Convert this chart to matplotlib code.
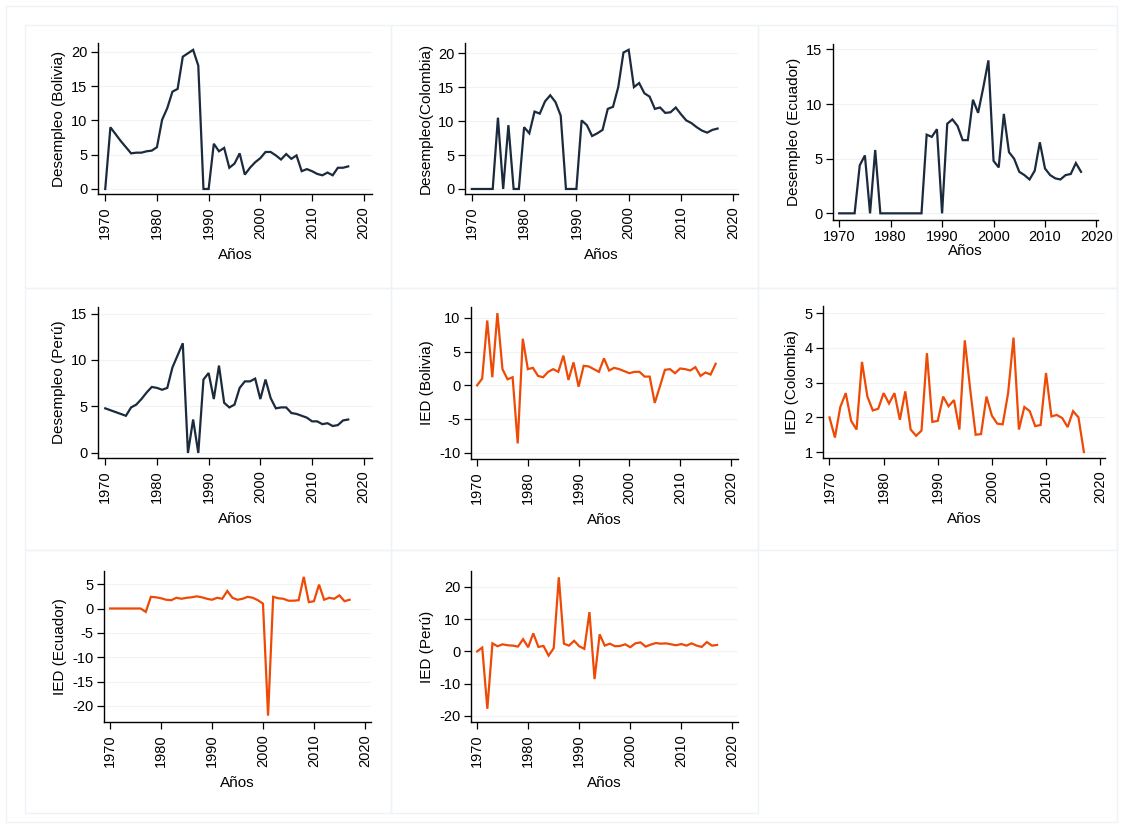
import matplotlib.pyplot as plt
from matplotlib.patches import Rectangle

plt.rcParams['font.family'] = ['Liberation Sans', 'DejaVu Sans']
plt.rcParams['axes.unicode_minus'] = False

years = list(range(1970, 2018))

# desempleo
des_bolivia = [0, 9.0, 8.0, 7.0, 6.1, 5.2, 5.3, 5.3, 5.5, 5.6,
               6.1, 10.1, 11.8, 14.2, 14.6, 19.3, 19.8, 20.3, 18.0, 0,
               0, 6.6, 5.5, 6.0, 3.1, 3.7, 5.2, 2.1, 3.1, 3.9,
               4.5, 5.4, 5.4, 4.9, 4.3, 5.1, 4.4, 4.9, 2.6, 2.9,
               2.6, 2.2, 2.0, 2.4, 2.0, 3.1, 3.1, 3.3]
des_colombia = [0, 0, 0, 0, 0, 10.5, 0, 9.4, 0, 0,
                9.1, 8.2, 11.4, 11.1, 12.9, 13.8, 12.8, 10.8, 0, 0,
                0, 10.1, 9.4, 7.8, 8.2, 8.7, 11.8, 12.1, 15.0, 20.1,
                20.5, 15.0, 15.6, 14.1, 13.6, 11.8, 12.0, 11.2, 11.3, 12.0,
                11.0, 10.1, 9.7, 9.1, 8.6, 8.3, 8.7, 8.9]
des_ecuador = [0, 0, 0, 0, 4.4, 5.3, 0, 5.8, 0, 0,
               0, 0, 0, 0, 0, 0, 0, 7.2, 7.0, 7.7,
               0, 8.2, 8.6, 8.0, 6.7, 6.7, 10.4, 9.2, 11.5, 14.0,
               4.8, 4.2, 9.1, 5.6, 5.0, 3.8, 3.5, 3.1, 3.9, 6.5,
               4.1, 3.5, 3.2, 3.1, 3.5, 3.6, 4.6, 3.8]
des_peru = [4.8, 4.6, 4.4, 4.2, 4.0, 4.9, 5.2, 5.8, 6.5, 7.1,
            7.0, 6.8, 7.0, 9.2, 10.5, 11.8, 0, 3.6, 0, 7.9,
            8.6, 5.8, 9.4, 5.4, 4.9, 5.2, 7.0, 7.7, 7.7, 8.0,
            5.8, 7.9, 5.9, 4.8, 4.9, 4.9, 4.3, 4.2, 4.0, 3.8,
            3.4, 3.4, 3.1, 3.2, 2.9, 3.0, 3.5, 3.6]

# IED
ied_bolivia = [0, 1.0, 9.6, 1.2, 10.7, 2.4, 0.9, 1.2, -8.6, 6.9,
               2.4, 2.6, 1.4, 1.2, 2.0, 2.4, 2.0, 4.4, 0.8, 3.4,
               -0.2, 2.9, 2.8, 2.4, 2.0, 4.0, 2.2, 2.6, 2.4, 2.1,
               1.8, 2.0, 2.0, 1.3, 1.3, -2.6, -0.2, 2.3, 2.4, 1.8,
               2.5, 2.4, 2.2, 2.7, 1.4, 1.9, 1.6, 3.2]
ied_colombia = [2.0, 1.42, 2.3, 2.7, 1.9, 1.65, 3.6, 2.6, 2.2, 2.25,
                2.7, 2.4, 2.7, 1.93, 2.75, 1.65, 1.47, 1.62, 3.85, 1.87,
                1.9, 2.6, 2.32, 2.5, 1.65, 4.22, 2.8, 1.5, 1.52, 2.6,
                2.05, 1.82, 1.8, 2.7, 4.3, 1.65, 2.3, 2.18, 1.75, 1.78,
                3.28, 2.03, 2.07, 1.98, 1.72, 2.18, 2.0, 1.0]
ied_ecuador = [0, 0, 0, 0, 0, 0, 0, -0.7, 2.4, 2.3,
               2.1, 1.8, 1.7, 2.2, 2.0, 2.2, 2.3, 2.5, 2.3, 2.0,
               1.8, 2.2, 2.0, 3.6, 2.2, 1.8, 2.0, 2.4, 2.2, 1.7,
               1.0, -22.0, 2.4, 2.1, 2.0, 1.6, 1.6, 1.7, 6.5, 1.3,
               1.5, 4.9, 1.8, 2.2, 2.0, 2.7, 1.5, 1.8]
ied_peru = [0, 1.2, -17.8, 2.5, 1.6, 2.2, 1.9, 1.8, 1.5, 3.8,
            1.3, 5.6, 1.4, 1.7, -1.3, 1.0, 23.0, 2.4, 1.8, 3.3,
            1.6, 0.8, 12.2, -8.6, 5.3, 1.8, 2.4, 1.6, 1.7, 2.2,
            1.3, 2.5, 2.8, 1.5, 2.1, 2.6, 2.4, 2.5, 2.2, 1.9,
            2.3, 1.8, 2.5, 1.8, 1.4, 2.9, 1.8, 2.0]

navy = '#1b2a3d'
orange = '#ee4a06'

W, H = 1123, 827
fig = plt.figure(figsize=(W / 100, H / 100), dpi=100)

# faint panel frames (Stata graph combine look)
border = '#eef3f8'
fig.add_artist(Rectangle((6 / W, 1 - 822 / H), 1111 / W, 816 / H, transform=fig.transFigure,
                         fill=False, ec=border, lw=1))
for (x0, y0, x1, y1) in [(25, 25, 391, 288), (391, 25, 758, 288), (758, 25, 1117, 288),
                         (25, 288, 391, 550), (391, 288, 758, 550), (758, 288, 1117, 550),
                         (25, 550, 391, 813), (391, 550, 758, 813)]:
    fig.add_artist(Rectangle((x0 / W, 1 - y1 / H), (x1 - x0) / W, (y1 - y0) / H,
                             transform=fig.transFigure, fill=False, ec=border, lw=1))

# (pixel box left, top, right, bottom), series, colour, ylabel, xlim, ylim, yticks, rotate
panels = [
    ((98, 43, 372, 194), des_bolivia, navy, 'Desempleo (Bolivia)', (1968.6, 2021.6), (-0.73, 21.3), [0, 5, 10, 15, 20], True),
    ((465, 43, 738, 194), des_colombia, navy, 'Desempleo(Colombia)', (1968.7, 2020.9), (-0.74, 21.5), [0, 5, 10, 15, 20], True),
    ((833, 44, 1098, 220), des_ecuador, navy, 'Desempleo (Ecuador)', (1968.8, 2020.3), (-0.61, 15.5), [0, 5, 10, 15], False),
    ((98, 307, 372, 458), des_peru, navy, 'Desempleo (Perú)', (1968.6, 2021.6), (-0.54, 15.7), [0, 5, 10, 15], True),
    ((471, 307, 738, 459), ied_bolivia, orange, 'IED (Bolivia)', (1968.8, 2021.4), (-10.9, 11.6), [-10, -5, 0, 5, 10], True),
    ((823, 306, 1105, 458), ied_colombia, orange, 'IED (Colombia)', (1968.8, 2020.9), (0.83, 5.21), [1, 2, 3, 4, 5], True),
    ((104, 571, 371, 722), ied_ecuador, orange, 'IED (Ecuador)', (1968.8, 2021.2), (-23.3, 7.7), [-20, -15, -10, -5, 0, 5], True),
    ((471, 571, 738, 722), ied_peru, orange, 'IED (Perú)', (1968.8, 2021.1), (-21.9, 24.95), [-20, -10, 0, 10, 20], True),
]

for box, values, color, ylab, xlim, ylim, yticks, rotate in panels:
    l, t, r, b = box
    ax = fig.add_axes([l / W, 1 - b / H, (r - l) / W, (b - t) / H])
    ax.plot(years, values, color=color, lw=1.6, solid_joinstyle='miter')
    ax.set_xlim(*xlim)
    ax.set_ylim(*ylim)
    ax.set_xticks([1970, 1980, 1990, 2000, 2010, 2020])
    ax.set_yticks(yticks)
    ax.grid(axis='y', color='#f1f3f5', lw=0.8)
    ax.set_axisbelow(True)
    for side in ['top', 'right']:
        ax.spines[side].set_visible(False)
    for side in ['left', 'bottom']:
        ax.spines[side].set_linewidth(1.0)
        ax.spines[side].set_color('black')
    ax.tick_params(axis='both', length=5, width=0.9, labelsize=10.5, pad=2.5)
    if rotate:
        ax.tick_params(axis='x', labelrotation=90, pad=4)
        ax.set_xlabel('Años', fontsize=11, labelpad=6)
    else:
        ax.set_xlabel('Años', fontsize=11, labelpad=0)
    ax.set_ylabel(ylab, fontsize=11, labelpad=4)

fig.savefig('out.png', dpi=100, facecolor='white')
